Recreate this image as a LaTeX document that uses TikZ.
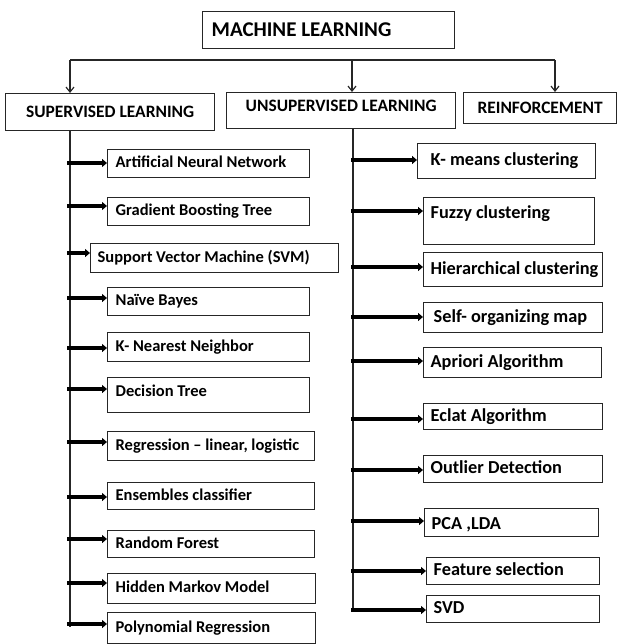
\documentclass[tikz,border=0pt]{standalone}
\usepackage{fontspec}
\setmainfont{Carlito}
\usetikzlibrary{arrows.meta}
% left-aligned label of fixed width inside a box
\newcommand\lbl[2]{\makebox[#1pt][l]{#2}}
% label lifted inside its box without changing the box size
\newcommand\lift[2]{\raisebox{#1pt}[\height][\depth]{#2}}
\begin{document}
\begin{tikzpicture}[x=1pt,y=-1pt,
  box/.style={draw=black!85, line width=1.3pt, rectangle, anchor=north west,
    inner ysep=0pt, text=black},
  head/.style={box, font=\bfseries\fontsize{17.4}{20}\selectfont, inner xsep=0pt},
  item/.style={box, font=\bfseries\fontsize{16.5}{19}\selectfont, inner xsep=8pt,
    text height=11.5pt, text depth=3.5pt},
  ritem/.style={item, font=\bfseries\fontsize{18.3}{21}\selectfont, inner xsep=7pt,
    text height=13pt, text depth=4pt},
  link/.style={draw=black!85, line width=1.2pt},
  drop/.style={link, -{Straight Barb[length=5pt,width=8pt]}},
  feed/.style={draw=black, line width=3.6pt, -{Triangle[length=5pt,width=8pt]}}
]
\useasboundingbox (0,0) rectangle (617,644);

% top level
\node[box, font=\bfseries\fontsize{21}{24}\selectfont, inner xsep=9pt,
  minimum width=252, minimum height=37] (ml) at (202,11)
  {\lbl{234}{MACHINE LEARNING}};
\node[head, minimum width=209, minimum height=37] (sup) at (5,93)
  {\makebox[209pt]{SUPERVISED LEARNING}};
\node[head, minimum width=229, minimum height=36] (unsup) at (226,92)
  {\makebox[229pt]{\lift{5}{UNSUPERVISED LEARNING}}};
\node[head, minimum width=153, minimum height=31] (reinf) at (463,92)
  {\makebox[153pt]{REINFORCEMENT}};

\coordinate (ltop) at (70,60);
\coordinate (mtop) at (352,60);
\coordinate (rtop) at (555,60);
\draw[link] (ltop) -- (rtop);
\draw[drop] (ltop) -- (ltop |- sup.north);
\draw[drop] (mtop) -- (mtop |- unsup.north);
\draw[drop] (rtop) -- (rtop |- reinf.north);

% supervised methods
\node[item, minimum width=202, minimum height=28] (ann) at (107,149) {\lbl{186}{Artificial Neural Network}};
\node[item, minimum width=202, minimum height=28] (gbt) at (107,197) {\lbl{186}{Gradient Boosting Tree}};
\node[item, inner xsep=7pt, minimum width=248, minimum height=29] (svm) at (90,243) {\lbl{234}{Support Vector Machine (SVM)}};
\node[item, minimum width=202, minimum height=28] (nb) at (107,287) {\lbl{186}{Naïve Bayes}};
\node[item, minimum width=202, minimum height=29] (knn) at (107,332) {\lbl{186}{K- Nearest Neighbor}};
\node[item, minimum width=202, minimum height=35] (dt) at (107,377) {\lbl{186}{\lift{2.5}{Decision Tree}}};
\node[item, minimum width=207, minimum height=29] (reg) at (107,431) {\lbl{191}{Regression – linear, logistic}};
\node[item, minimum width=207, minimum height=27] (ens) at (107,482) {\lbl{191}{Ensembles classifier}};
\node[item, minimum width=207, minimum height=27] (rf) at (107,530) {\lbl{191}{Random Forest}};
\node[item, minimum width=208, minimum height=30] (hmm) at (107,573) {\lbl{192}{Hidden Markov Model}};
\node[item, minimum width=208, minimum height=31] (pr) at (107,612) {\lbl{192}{Polynomial Regression}};

\coordinate (lend) at (70,627);
\draw[link] (lend |- sup.south) -- (lend);
\foreach \n/\y in {ann/163, gbt/206, svm/253, nb/298, knn/348, dt/389,
                   reg/442, ens/497, rf/539, hmm/583, pr/624} {
  \coordinate (s\n) at (67,\y);
  \draw[feed] (s\n) -- (s\n -| \n.west);
}

% unsupervised methods
\node[ritem, inner xsep=13pt, minimum width=178, minimum height=35] (km) at (417,143) {\lbl{152}{K- means clustering}};
\node[ritem, minimum width=171, minimum height=47] (fuz) at (423,197) {\lbl{157}{\lift{7.5}{Fuzzy clustering}}};
\node[ritem, minimum width=179, minimum height=34] (hier) at (423,252) {\lbl{165}{Hierarchical clustering}};
\node[ritem, inner xsep=10pt, minimum width=179, minimum height=30] (som) at (423,302) {\lbl{159}{Self- organizing map}};
\node[ritem, minimum width=178, minimum height=30] (apr) at (423,347) {\lbl{164}{Apriori Algorithm}};
\node[ritem, minimum width=179, minimum height=26] (ecl) at (423,403) {\lbl{165}{Eclat Algorithm}};
\node[ritem, minimum width=179, minimum height=27] (out) at (423,455) {\lbl{165}{Outlier Detection}};
\node[ritem, minimum width=174, minimum height=28] (pca) at (424,508) {\lbl{160}{\lift{-2}{PCA ,LDA}}};
\node[ritem, minimum width=173, minimum height=27] (fs) at (426,557) {\lbl{159}{Feature selection}};
\node[ritem, minimum width=173, minimum height=27] (svd) at (426,595) {\lbl{159}{SVD}};

\coordinate (rend) at (353,611);
\draw[link] (rend |- unsup.south) -- (rend);
\foreach \n/\y in {km/160, fuz/211, hier/267, som/317, apr/361,
                   ecl/419, out/470, pca/521, fs/571, svd/610} {
  \coordinate (s\n) at (351,\y);
  \draw[feed] (s\n) -- (s\n -| \n.west);
}
\end{tikzpicture}
\end{document}
